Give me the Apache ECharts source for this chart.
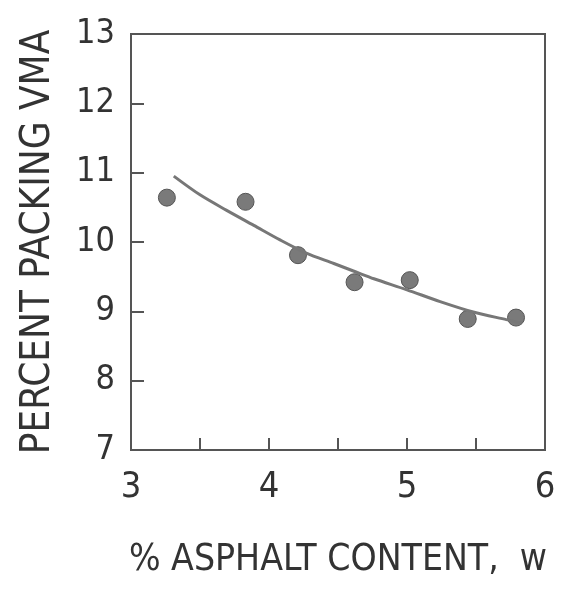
<!DOCTYPE html>
<html>
<head>
<meta charset="utf-8">
<script src="https://cdn.jsdelivr.net/npm/echarts@6/dist/echarts.min.js"></script>
<style>
  html, body { margin: 0; padding: 0; background: #fff; }
  #main { width: 572px; height: 592px; }
</style>
</head>
<body>
<div id="main"></div>
<script>
// measured points (asphalt %, VMA %)
var measured = [
  [3.26, 10.64], [3.83, 10.58], [4.21, 9.81], [4.62, 9.42],
  [5.02, 9.45], [5.44, 8.89], [5.79, 8.91]
];
// fitted curve
var fitCurve = [
  [3.31, 10.95], [3.50, 10.68], [3.69, 10.46], [3.89, 10.24],
  [4.08, 10.03], [4.27, 9.84], [4.47, 9.69], [4.64, 9.56],
  [4.76, 9.47], [5.00, 9.31], [5.24, 9.14], [5.48, 8.99],
  [5.72, 8.88], [5.83, 8.83]
];
var xLabels = [3, 4, 5, 6];

var font = "'DejaVu Sans Condensed', 'Liberation Sans Narrow', sans-serif";
var myChart = echarts.init(document.getElementById("main"));

myChart.setOption({
  animation: false,
  grid: {
    left: 131,
    right: 27,
    top: 34,
    bottom: 142,
    show: true,
    borderColor: "#555",
    borderWidth: 2,
  },
  xAxis: {
    type: "value",
    min: 3,
    max: 6,
    interval: 0.5,
    name: "% ASPHALT CONTENT,  w",
    nameLocation: "middle",
    nameGap: 92,
    nameTextStyle: { fontFamily: font, fontSize: 37, color: "#333" },
    axisLine: { lineStyle: { color: "#555", width: 2 } },
    axisTick: { inside: true, length: 12, lineStyle: { color: "#555", width: 2 } },
    axisLabel: {
      margin: 20,
      fontFamily: font,
      fontSize: 36,
      color: "#333",
      formatter: function (v) {
        return xLabels.indexOf(v) >= 0 ? String(v) : "";
      },
    },
    splitLine: { show: false },
  },
  yAxis: {
    type: "value",
    min: 7,
    max: 13,
    interval: 1,
    name: "PERCENT PACKING VMA",
    nameLocation: "middle",
    nameGap: 72,
    nameTextStyle: { fontFamily: font, fontSize: 40, color: "#333" },
    axisLine: { lineStyle: { color: "#555", width: 2 } },
    axisTick: { inside: true, length: 13, lineStyle: { color: "#555", width: 2 } },
    axisLabel: { margin: 16, fontFamily: font, fontSize: 34, color: "#333" },
    splitLine: { show: false },
  },
  series: [
    {
      name: "fit",
      type: "line",
      data: fitCurve,
      smooth: 0.3,
      showSymbol: false,
      lineStyle: { color: "#777", width: 3 },
    },
    {
      name: "measured",
      type: "scatter",
      data: measured,
      symbolSize: 17,
      itemStyle: { color: "#7a7a7a", borderColor: "#555", borderWidth: 1, opacity: 1 },
    },
  ],
});
</script>
</body>
</html>
